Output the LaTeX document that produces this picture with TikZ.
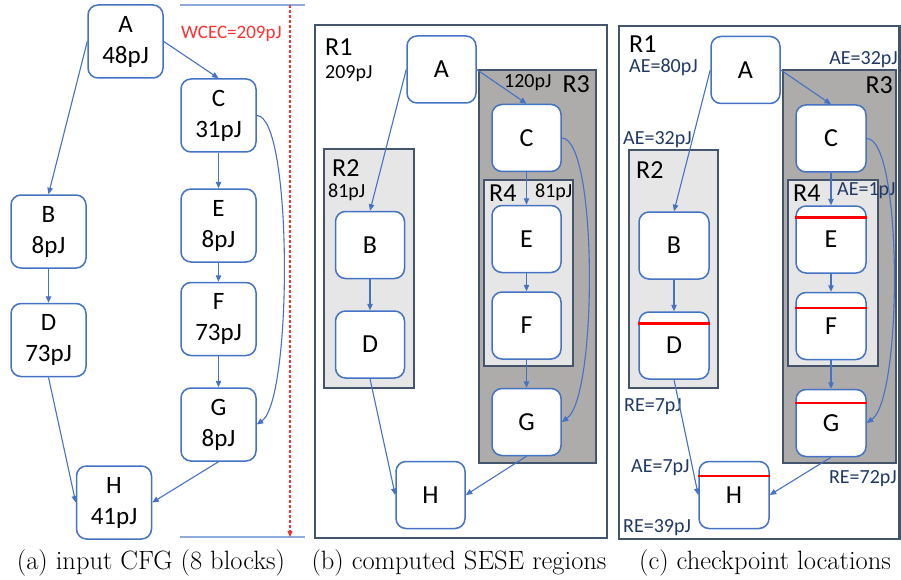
\documentclass[tikz,border=0pt]{standalone}
\usepackage{fontspec}
\newfontfamily\carl{Carlito}
\usetikzlibrary{arrows.meta}
\definecolor{blkblue}{HTML}{4472C4}
\definecolor{regborder}{HTML}{44546A}
\definecolor{darkreg}{HTML}{AEABAB}
\definecolor{lightreg}{HTML}{E7E6E6}
\definecolor{aeblue}{HTML}{203864}
\definecolor{lineblue}{HTML}{8FAADC}
\definecolor{wcecred}{HTML}{FF3030}
\begin{document}
\begin{tikzpicture}[x=1pt,y=-1pt,
 blk/.style={draw=blkblue, line width=1.5pt, rounded corners=10pt, fill=white, inner sep=0pt, align=center, font=\carl\fontsize{25}{31}\selectfont},
 blkA/.style={blk, minimum width=75pt, minimum height=73pt},
 blkB/.style={blk, minimum width=69pt, minimum height=67pt, font=\carl\fontsize{26}{31}\selectfont},
 flow/.style={draw=blkblue, line width=1.1pt, -{Triangle[length=6.5pt,width=5.5pt]}},
 region/.style={draw=regborder, line width=2.2pt},
 rlab/.style={font=\carl\fontsize{26}{30}\selectfont, inner sep=0pt},
 elab/.style={font=\carl\fontsize{20}{24}\selectfont, inner sep=0pt},
 aelab/.style={elab, text=aeblue},
 captext/.style={font=\fontsize{26.5}{31}\selectfont, inner sep=0pt},
 ckpt/.style={draw=red, line width=2.5pt}
]
\useasboundingbox (0,0) rectangle (901,580);

% ---------------- panel (a) ----------------
\coordinate (topL) at (180,5);
\coordinate (topR) at (305,5);
\coordinate (botL) at (180,537);
\coordinate (botR) at (305,537);
\coordinate (wtop) at (290,5);
\coordinate (wbot) at (290,537);
\draw[lineblue, line width=1.5pt] (topL) -- (topR);
\draw[lineblue, line width=1.5pt] (botL) -- (botR);
\draw[wcecred, line width=1.3pt, dash pattern=on 3pt off 2pt, -{Triangle[length=6pt,width=5pt]}] (wtop) -- (wbot);
\node[elab, text=wcecred, font=\carl\fontsize{19}{22}\selectfont, anchor=west] (wcec) at (181,34) {WCEC=209pJ};

\node[blkA] (aA) at (125.5,41.5) {A\\48pJ};
\node[blkA] (aC) at (218.5,115.5) {C\\31pJ};
\node[blkA] (aE) at (218.5,225.5) {E\\8pJ};
\node[blkA] (aF) at (218.5,319) {F\\73pJ};
\node[blkA] (aG) at (218.5,424.5) {G\\8pJ};
\node[blkA] (aB) at (48.5,231.5) {B\\8pJ};
\node[blkA] (aD) at (48.5,340) {D\\73pJ};
\node[blkA] (aH) at (114,502.5) {H\\41pJ};

\draw[flow] (aA.west) -- (aB.north);
\draw[flow] (aA.east) -- (aC.north);
\draw[flow] (aC) -- (aE);
\draw[flow] (aE) -- (aF);
\draw[flow] (aF) -- (aG);
\draw[flow] (aB) -- (aD);
\draw[flow] (aD.south) -- (aH.west);
\draw[flow] (aG.south) -- (aH.east);
\draw[flow] (aC.east) .. controls +(36,0) and +(36,-25) .. (aG.east);

\node[captext] (capa) at (151,563) {(a) input CFG (8 blocks)};

% ---------------- panel (b) ----------------
\draw[region, fill=white] (315,25) rectangle (607,538);
\draw[region, fill=lightreg] (324,149) rectangle (414,388);
\draw[region, fill=darkreg] (479,70) rectangle (596,463);
\draw[region, fill=lightreg] (484,180) rectangle (573,366);

\node[rlab, anchor=west] (bR1) at (325,47) {R1};
\node[elab, anchor=west] (bR1e) at (325,74) {209pJ};
\node[rlab, anchor=east] (bR3) at (590,84) {R3};
\node[elab, anchor=west] (bR3e) at (504,83) {120pJ};
\node[rlab, anchor=west] (bR2) at (332,168) {R2};
\node[elab, anchor=west] (bR2e) at (328,192) {81pJ};
\node[rlab, anchor=west] (bR4) at (489,193) {R4};
\node[elab, anchor=west] (bR4e) at (535,192) {81pJ};

\node[blkB] (bA) at (441.5,69.5) {A};
\node[blkB] (bC) at (526.5,138) {C};
\node[blkB] (bE) at (526.5,239) {E};
\node[blkB] (bF) at (526.5,325.5) {F};
\node[blkB] (bG) at (526.5,422) {G};
\node[blkB] (bB) at (370,245) {B};
\node[blkB] (bD) at (370,344.5) {D};
\node[blkB] (bH) at (430.5,495) {H};

\draw[flow] (bA.west) -- (bB.north);
\draw[flow] (bA.east) -- (bC.north);
\draw[flow] (bC) -- (bE);
\draw[flow] (bE) -- (bF);
\draw[flow] (bF) -- (bG);
\draw[flow] (bB) -- (bD);
\draw[flow] (bD.south) -- (bH.west);
\draw[flow] (bG.south) -- (bH.east);
\draw[flow] (bC.east) .. controls +(36,0) and +(36,-25) .. (bG.east);

\node[captext] (capb) at (459,563) {(b) computed SESE regions};

% ---------------- panel (c) ----------------
\draw[region, fill=white] (619,26) rectangle (899.5,539);
\draw[region, fill=lightreg] (629,150) rectangle (718,388);
\draw[region, fill=darkreg] (783,70) rectangle (896,463);
\draw[region, fill=lightreg] (788,180) rectangle (878,366);

\node[rlab, anchor=west] (cR1) at (629,44) {R1};
\node[aelab, anchor=west] (cR1e) at (629,67) {AE=80pJ};
\node[aelab, anchor=east] (cR3e) at (898,60) {AE=32pJ};
\node[rlab, anchor=east] (cR3) at (893,85) {R3};
\node[aelab, anchor=west] (cR2e) at (623,140) {AE=32pJ};
\node[rlab, anchor=west] (cR2) at (636,170) {R2};
\node[rlab, anchor=west] (cR4) at (793,193) {R4};
\node[aelab, anchor=west] (cR4e) at (837,191) {AE=1pJ};
\node[aelab, anchor=west] (cDe) at (624,407) {RE=7pJ};
\node[aelab, anchor=west] (cHae) at (631,468) {AE=7pJ};
\node[aelab, anchor=west] (cHre) at (623,528) {RE=39pJ};
\node[aelab, anchor=east] (cGre) at (897,479) {RE=72pJ};

\node[blkB] (cA) at (745.5,70) {A};
\node[blkB, minimum width=70pt] (cC) at (831,138.5) {C};
\node[blkB, minimum width=70pt] (cE) at (831,239.5) {E};
\node[blkB, minimum width=70pt] (cF) at (831,326) {F};
\node[blkB, minimum width=70pt] (cG) at (831,423) {G};
\node[blkB, minimum width=70pt] (cB) at (674,245.5) {B};
\node[blkB, minimum width=70pt] (cD) at (674,345.5) {D};
\node[blkB, minimum width=70pt] (cH) at (734,495) {H};

\draw[ckpt] ([yshift=-12pt]cE.north west) -- ([yshift=-12pt]cE.north east);
\draw[ckpt] ([yshift=-16pt]cF.north west) -- ([yshift=-16pt]cF.north east);
\draw[ckpt] ([yshift=-14pt]cG.north west) -- ([yshift=-14pt]cG.north east);
\draw[ckpt] ([yshift=-12pt]cD.north west) -- ([yshift=-12pt]cD.north east);
\draw[ckpt] ([yshift=-15pt]cH.north west) -- ([yshift=-15pt]cH.north east);

\draw[flow] (cA.west) -- (cB.north);
\draw[flow] (cA.east) -- (cC.north);
\draw[flow] (cC) -- (cE);
\draw[flow] (cE) -- (cF);
\draw[flow] (cF) -- (cG);
\draw[flow] (cB) -- (cD);
\draw[flow] (cD.south) -- (cH.west);
\draw[flow] (cG.south) -- (cH.east);
\draw[flow] (cC.east) .. controls +(36,0) and +(36,-25) .. (cG.east);

\node[captext] (capc) at (765,563) {(c) checkpoint locations};
\end{tikzpicture}
\end{document}
